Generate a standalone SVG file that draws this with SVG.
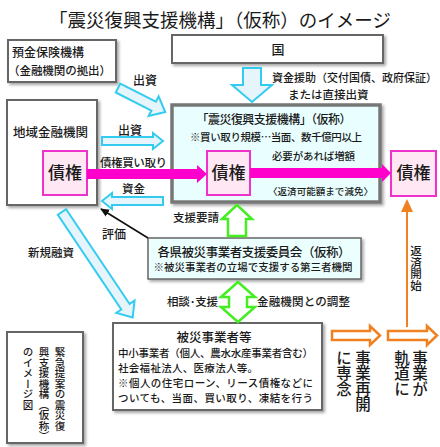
<svg xmlns="http://www.w3.org/2000/svg" width="440" height="447" viewBox="0 0 440 447">
<defs>
<filter id="sh" x="-10%" y="-10%" width="130%" height="130%">
<feDropShadow dx="2" dy="2" stdDeviation="1.5" flood-color="#000" flood-opacity="0.35"/>
</filter>
<marker id="blk" markerWidth="10" markerHeight="10" refX="8" refY="5" orient="auto" markerUnits="userSpaceOnUse">
<path d="M0,1 L9,5 L0,9 Z" fill="#111"/>
</marker>
</defs>
<style>
text{font-family:"Noto Sans CJK JP","Noto Sans CJK SC",sans-serif;fill:#1a1a1a;font-weight:500}
.ttl{font-weight:400}
.box{fill:#fff;stroke:#666;stroke-width:2;filter:url(#sh)}
.org{fill:#e9ffff;stroke:#777;stroke-width:3.5;filter:url(#sh)}
.cm{fill:#ecffff;stroke:#666;stroke-width:1.5;filter:url(#sh)}
.pk{fill:#ffe8f4;stroke:#ee33cc;stroke-width:2}
.cy{fill:#e6f4fc;stroke:#33ccf0;stroke-width:2}
.gr{fill:#fff;stroke:#44ee22;stroke-width:2.5}
.or{fill:#fff;stroke:#f08020;stroke-width:2.5}
.mg{fill:#ff00cc}
.v{writing-mode:vertical-rl}
</style>
<rect width="440" height="447" fill="#fff"/>
<text class="ttl" x="220" y="27" font-size="18.5" text-anchor="middle" textLength="342" lengthAdjust="spacingAndGlyphs">「震災復興支援機構」（仮称）のイメージ</text>

<g id="yokin">
<rect class="box" x="8" y="40" width="108" height="42"/>
<text x="12" y="57" font-size="12">預金保険機構</text>
<text x="8" y="75" font-size="11.5" textLength="103">（金融機関の拠出）</text>
</g>

<g id="kuni">
<rect class="box" x="172" y="35" width="211" height="28"/>
<text x="278" y="54" font-size="13" text-anchor="middle">国</text>
</g>

<g id="chiiki">
<rect class="box" x="7" y="100" width="90" height="105"/>
<text x="13" y="137" font-size="12.5">地域金融機関</text>
<rect class="pk" x="43" y="151" width="44" height="44"/>
<text x="65" y="179" font-size="17" text-anchor="middle">債権</text>
</g>

<g id="kikou">
<rect class="org" x="172" y="105" width="208" height="97"/>
<text x="274" y="124" font-size="12" text-anchor="middle" textLength="155">「震災復興支援機構」（仮称）</text>
<text x="190" y="141" font-size="10.5" textLength="172">※買い取り規模…当面、数千億円以上</text>
<text x="272" y="160" font-size="10.5" textLength="83">必要があれば増額</text>
<text x="268" y="195" font-size="9.5" textLength="105">〈返済可能額まで減免〉</text>
<rect class="pk" x="207" y="151" width="43" height="44"/>
<text x="228.5" y="179" font-size="17" text-anchor="middle">債権</text>
</g>

<g id="saiken-right">
<rect class="pk" x="391" y="151" width="45" height="45"/>
<text x="413.5" y="179" font-size="17" text-anchor="middle">債権</text>
</g>

<g id="iinkai">
<rect class="cm" x="148" y="238" width="213" height="41"/>
<text x="254" y="256.5" font-size="12.5" text-anchor="middle" textLength="193">各県被災事業者支援委員会（仮称）</text>
<text x="253" y="271" font-size="10.5" text-anchor="middle" textLength="199">※被災事業者の立場で支援する第三者機関</text>
</g>

<g id="hisai">
<rect class="box" x="113" y="323" width="209" height="87"/>
<text x="214" y="342" font-size="12.5" text-anchor="middle">被災事業者等</text>
<text x="118" y="357" font-size="10.5" textLength="195">中小事業者（個人、農水水産事業者含む）</text>
<text x="118" y="372" font-size="10.5" textLength="140">社会福祉法人、医療法人等。</text>
<text x="118" y="387" font-size="10.5" textLength="195">※個人の住宅ローン、リース債権などに</text>
<text x="118" y="402" font-size="10.5" textLength="195">ついても、当面、買い取り、凍結を行う</text>
</g>

<g id="note">
<rect class="box" x="7" y="332" width="76" height="111"/>
<text class="v" x="60" y="347" font-size="10.5">緊急提案の震災復</text>
<text class="v" x="44" y="347" font-size="10.5">興支援機構（仮称）</text>
<text class="v" x="28" y="347" font-size="10.5">のイメージ図</text>
</g>

<g id="saikai">
<text class="v" x="363" y="350" font-size="15.5">事業再開</text>
<text class="v" x="344" y="350" font-size="15.5">に専念</text>
</g>
<g id="kidou">
<text class="v" x="420" y="350" font-size="15.5">事業が</text>
<text class="v" x="402" y="350" font-size="15.5">軌道に</text>
</g>

<g id="connectors">
<path class="cy" d="M243,68 H261 V85 H272 L252,102 L232,85 H243 Z"/>
<path class="cy" d="M0,-5 H40 V-11 L53,0 L40,11 V5 H0 Z" transform="translate(118,88) rotate(27)"/>
<path class="cy" d="M0,-5 H114 V-11 L127,0 L114,11 V5 H0 Z" transform="translate(62,212) rotate(56.2)"/>
<path class="cy" d="M102,137 H153 V133 L163,141 L153,149 V145 H102 Z"/>
<path class="cy" d="M163,197 H112 V193 L102,201 L112,209 V205 H163 Z"/>
<path class="mg" d="M87,169 H197 V165 L207,174 L197,183 V179 H87 Z"/>
<path class="mg" d="M250,168 H382 V164 L391,173 L382,182 V178 H250 Z"/>
<path class="gr" d="M228,236 V219 H222 L237,205 L252,219 H246 V236 Z"/>
<path class="gr" d="M238,282 L255,297 H247 V307 H255 L238,322 L221,307 H229 V297 H221 Z"/>
<path class="or" d="M332,331 H370 V326 L380,335.5 L370,345 V340 H332 Z"/>
<path class="or" d="M388,331 H427 V326 L437,335.5 L427,345 V340 H388 Z"/>
<line x1="407" y1="327" x2="407" y2="210" stroke="#f08020" stroke-width="2"/>
<path d="M401,212 L413,212 L407,199 Z" fill="#f08020"/>
<line x1="148" y1="238" x2="101" y2="209" stroke="#111" stroke-width="1.6" marker-end="url(#blk)"/>
</g>

<g id="labels">
<text x="133" y="85" font-size="12">出資</text>
<text x="272" y="82" font-size="11" textLength="165">資金援助（交付国債、政府保証）</text>
<text x="288" y="99" font-size="11.5">または直接出資</text>
<text x="118" y="135" font-size="12">出資</text>
<text x="100" y="167" font-size="11.5" textLength="67">債権買い取り</text>
<text x="122" y="193" font-size="11.5">資金</text>
<text x="173" y="222" font-size="11.5">支援要請</text>
<text x="102" y="239" font-size="12">評価</text>
<text x="28" y="257" font-size="11.5">新規融資</text>
<text x="167" y="306" font-size="11.5" textLength="51">相談･支援</text>
<text x="257" y="306" font-size="11.5" textLength="93">金融機関との調整</text>
<text class="v" x="416" y="245" font-size="11.5">返済開始</text>
</g>
</svg>
